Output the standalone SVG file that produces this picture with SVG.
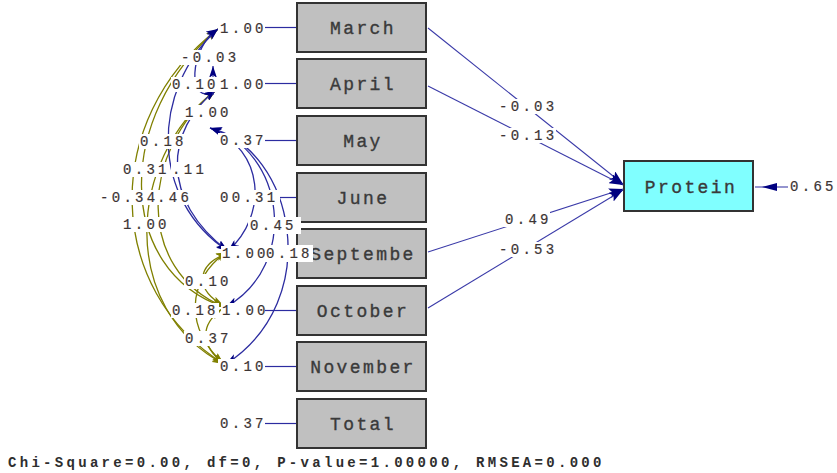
<svg xmlns="http://www.w3.org/2000/svg" width="837" height="473" viewBox="0 0 837 473">
<style>
.box{fill:#c0c0c0;stroke:#333;stroke-width:2}
.pbox{fill:#80ffff;stroke:#333;stroke-width:2}
.bt{font-family:"Liberation Mono",monospace;font-size:18px;letter-spacing:2.4px;fill:#3a3a3a;text-anchor:middle;stroke:#3a3a3a;stroke-width:0.35}
.v{font-family:"Liberation Mono",monospace;font-size:14px;letter-spacing:3.3px;fill:#3c3434;stroke:#3c3434;stroke-width:0.2}
.bg{fill:#fff}
.bl{fill:none;stroke:#2c2ca0;stroke-width:1.2}
.ba{fill:none;stroke:#2c2ca0;stroke-width:1.3;marker-start:url(#an);marker-end:url(#an)}
.oa{fill:none;stroke:#808000;stroke-width:1.3;marker-start:url(#ao);marker-end:url(#ao)}
.pa{fill:none;stroke:#3a3aa8;stroke-width:1.1;marker-end:url(#ap)}
.foot{font-family:"Liberation Mono",monospace;font-size:14px;font-weight:bold;letter-spacing:3.3px;fill:#2e2e2e}
</style>
<defs>
<marker id="an" viewBox="0 0 12 8" refX="12" refY="4" markerWidth="12" markerHeight="8" markerUnits="userSpaceOnUse" orient="auto-start-reverse"><path d="M0,0 L12,4 L0,8 L3,4 z" fill="#000080"/></marker>
<marker id="ao" viewBox="0 0 12 8" refX="12" refY="4" markerWidth="12" markerHeight="8" markerUnits="userSpaceOnUse" orient="auto-start-reverse"><path d="M0,0 L12,4 L0,8 L3,4 z" fill="#808000"/></marker>
<marker id="ap" viewBox="0 0 14 10" refX="14" refY="5" markerWidth="14" markerHeight="10" markerUnits="userSpaceOnUse" orient="auto"><path d="M0,0 L14,5 L0,10 L3,5 z" fill="#000080"/></marker>
</defs>
<rect width="837" height="473" fill="#fff"/>
<g id="connectors">
<line class="bl" x1="265" y1="27.5" x2="297" y2="27.5"/>
<line class="bl" x1="265" y1="83.5" x2="297" y2="83.5"/>
<line class="bl" x1="265" y1="140.5" x2="297" y2="140.5"/>
<line class="bl" x1="265" y1="197.5" x2="297" y2="197.5"/>
<line class="bl" x1="265" y1="253.5" x2="297" y2="253.5"/>
<line class="bl" x1="265" y1="310.5" x2="297" y2="310.5"/>
<line class="bl" x1="265" y1="366.5" x2="297" y2="366.5"/>
<line class="bl" x1="265" y1="423.5" x2="297" y2="423.5"/>
<path class="oa" d="M218,29 C100,120 105,290 224,364"/>
<path class="oa" d="M218,29 C115,115 115,270 224,307"/>
<path class="oa" d="M216,90 C140,150 135,270 224,307"/>
<path class="oa" d="M216,90 C125,160 120,310 224,364"/>
<path class="oa" d="M224,364 C185,330 185,280 228,251"/>
<path class="oa" d="M228,253 C195,265 195,290 224,306"/>
<path class="oa" d="M222,309 C200,325 200,345 224,364"/>
<path class="ba" d="M218,29 C190,45 185,110 216,90"/>
<path class="ba" d="M218,29 C150,90 150,200 228,251"/>
<path class="ba" d="M216,90 C165,130 160,200 228,251"/>
<path class="ba" d="M210,128 C265,150 268,215 228,251"/>
<path class="ba" d="M210,128 C285,150 300,265 226,307"/>
<path class="ba" d="M210,128 C295,150 325,300 226,364"/>
<path class="bl" style="marker-end:url(#an)" d="M213,95 L213,66"/>
<line class="pa" x1="428" y1="28" x2="623" y2="184"/>
<line class="pa" x1="428" y1="86" x2="623" y2="185"/>
<line class="pa" x1="428" y1="252" x2="623" y2="189"/>
<line class="pa" x1="428" y1="308" x2="623" y2="190"/>
<line class="bl" x1="755" y1="187" x2="788" y2="187" stroke-width="2"/>
<path d="M762,187 L777,183 L777,191 z" fill="#000080"/>
</g>
<g id="n-march"><rect class="box" x="297" y="3" width="129" height="49"/><text class="bt" x="363" y="34">March</text></g>
<g id="n-april"><rect class="box" x="297" y="59" width="129" height="49"/><text class="bt" x="363" y="90">April</text></g>
<g id="n-may"><rect class="box" x="297" y="116" width="129" height="49"/><text class="bt" x="363" y="147">May</text></g>
<g id="n-june"><rect class="box" x="297" y="173" width="129" height="49"/><text class="bt" x="363" y="204">June</text></g>
<g id="n-sept"><rect class="box" x="297" y="229" width="129" height="49"/><text class="bt" x="363" y="260">Septembe</text></g>
<g id="n-october"><rect class="box" x="297" y="286" width="129" height="49"/><text class="bt" x="363" y="317">October</text></g>
<g id="n-november"><rect class="box" x="297" y="342" width="129" height="49"/><text class="bt" x="363" y="373">November</text></g>
<g id="n-total"><rect class="box" x="297" y="399" width="129" height="49"/><text class="bt" x="363" y="430">Total</text></g>
<g id="n-protein"><rect class="pbox" x="624" y="161" width="129" height="50"/><text class="bt" x="691" y="193">Protein</text></g>
<g id="labels">
<rect class="bg" x="218" y="20" width="46" height="15"/>
<rect class="bg" x="180" y="50" width="58" height="15"/>
<rect class="bg" x="171" y="77" width="46" height="15"/>
<rect class="bg" x="218" y="77" width="46" height="15"/>
<rect class="bg" x="184" y="105" width="46" height="15"/>
<rect class="bg" x="218" y="133" width="46" height="15"/>
<rect class="bg" x="139" y="134" width="46" height="15"/>
<rect class="bg" x="122" y="162" width="46" height="15"/>
<rect class="bg" x="171" y="162" width="36" height="15"/>
<rect class="bg" x="100" y="190" width="58" height="15"/>
<rect class="bg" x="156" y="190" width="32" height="15"/>
<rect class="bg" x="218" y="190" width="62" height="15"/>
<rect class="bg" x="248" y="217" width="53" height="17"/>
<rect class="bg" x="122" y="217" width="46" height="15"/>
<rect class="bg" x="221" y="246" width="44" height="15"/>
<rect class="bg" x="264" y="245" width="49" height="17"/>
<rect class="bg" x="184" y="274" width="46" height="15"/>
<rect class="bg" x="171" y="303" width="48" height="15"/>
<rect class="bg" x="221" y="303" width="44" height="15"/>
<rect class="bg" x="184" y="331" width="46" height="15"/>
<rect class="bg" x="218" y="359" width="46" height="15"/>
<rect class="bg" x="218" y="416" width="46" height="15"/>
<rect class="bg" x="496" y="99" width="60" height="15"/>
<rect class="bg" x="496" y="128" width="60" height="15"/>
<rect class="bg" x="502" y="212" width="48" height="15"/>
<rect class="bg" x="496" y="242" width="60" height="15"/>
<text class="v" x="220" y="33">1.00</text>
<text class="v" x="181" y="62">-0.03</text>
<text class="v" x="172" y="89">0.10</text>
<text class="v" x="220" y="89">1.00</text>
<text class="v" x="185" y="117">1.00</text>
<text class="v" x="220" y="145">0.37</text>
<text class="v" x="140" y="146">0.18</text>
<text class="v" x="123" y="174">0.31</text>
<text class="v" x="172" y="174">.11</text>
<text class="v" x="100" y="202">-0.34</text>
<text class="v" x="157" y="202">.46</text>
<text class="v" x="220" y="202">00.31</text>
<text class="v" x="250" y="230">0.45</text>
<text class="v" x="123" y="229">1.00</text>
<text class="v" x="222" y="258">1.00</text>
<text class="v" x="266" y="258">0.18</text>
<text class="v" x="185" y="286">0.10</text>
<text class="v" x="172" y="315">0.18</text>
<text class="v" x="222" y="315">1.00</text>
<text class="v" x="185" y="343">0.37</text>
<text class="v" x="220" y="371">0.10</text>
<text class="v" x="220" y="428">0.37</text>
<text class="v" x="499" y="111">-0.03</text>
<text class="v" x="499" y="140">-0.13</text>
<text class="v" x="505" y="224">0.49</text>
<text class="v" x="499" y="254">-0.53</text>
<text class="v" x="790" y="191">0.65</text>
</g>
<text class="foot" x="8" y="467">Chi-Square=0.00, df=0, P-value=1.00000, RMSEA=0.000</text>
</svg>
